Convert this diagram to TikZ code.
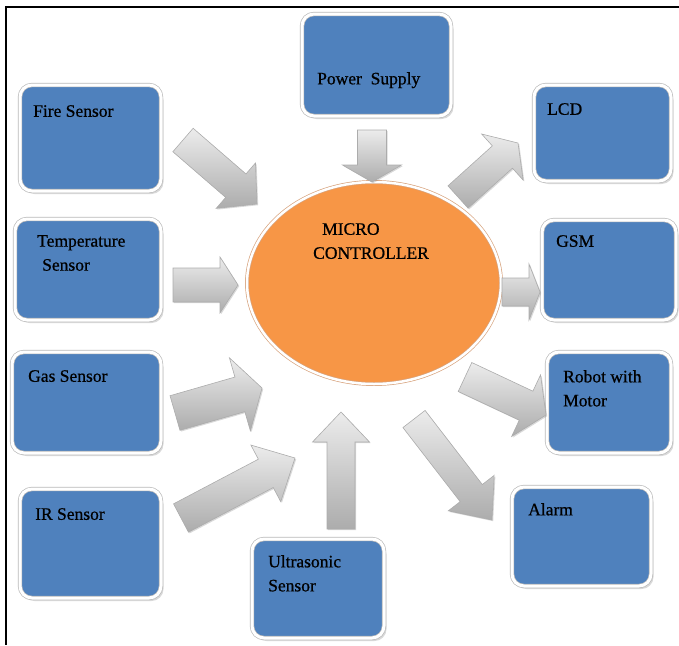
\documentclass[tikz,border=0pt]{standalone}
\usepackage{fontspec}
\setmainfont{Liberation Serif}
\newfontfamily\lblfont{Liberation Serif}[FakeBold=0.7]
\usetikzlibrary{positioning,calc,shapes.geometric,shadows}

\definecolor{unitblue}{HTML}{4F81BD}
\definecolor{mcorange}{HTML}{F79646}
\definecolor{mcrim}{HTML}{D8A47F}

% block arrow: tail, tip, half shaft, half head, head length
\newcommand{\fatarrow}[5]{%
  \coordinate (fa-b) at ($(#2)!#5pt!(#1)$);
  \draw[fat] ($(#1)!#3pt!90:(#2)$) -- ($(fa-b)!#3pt!90:(#2)$) -- ($(fa-b)!#4pt!90:(#2)$)
    -- (#2) -- ($(fa-b)!#4pt!-90:(#2)$) -- ($(fa-b)!#3pt!-90:(#2)$) -- ($(#1)!#3pt!-90:(#2)$) -- cycle;
}

\begin{document}
\begin{tikzpicture}[
        x=1pt, y=-1pt,
        unit/.style={draw=gray!55, double=white, double distance=3pt, line width=0.7pt, fill=unitblue, rounded corners=12pt, outer sep=0pt,
            drop shadow={shadow xshift=2.5pt, shadow yshift=-3pt, opacity=0.3}},
        mcu/.style={ellipse, draw=mcrim, double=white, double distance=2.5pt, line width=0.7pt, fill=mcorange, minimum width=254pt, minimum height=202pt},
        lbl/.style={font=\lblfont\fontsize{17.5}{24}\selectfont, inner sep=0pt, align=left},
        fat/.style={top color=gray!15, bottom color=gray!65, draw=gray!65, line width=0.6pt,
            drop shadow={shadow xshift=1.2pt, shadow yshift=-1.2pt, opacity=0.3}}
    ]
    \useasboundingbox (0,0) rectangle (679,645);
    \draw[line width=1.5pt] (679,7) -- (6,7) -- (6,645);

    % sensors
    \node[unit, minimum width=141pt, minimum height=106pt] (fire) at (90.5,138) {};
    \node[unit, minimum width=146pt, minimum height=101pt] (temp) at (88,269.5) {};
    \node[unit, minimum width=149pt, minimum height=101pt] (gas) at (86.5,402.5) {};
    \node[unit, minimum width=141pt, minimum height=109pt] (ir) at (90.5,543.5) {};
    \node[unit, minimum width=132pt, minimum height=99pt] (ultra) at (318,588.5) {};
    \node[unit, minimum width=149pt, minimum height=102pt] (power) at (376.5,65) {};
    % outputs
    \node[unit, minimum width=137pt, minimum height=96pt] (lcd) at (602.5,133) {};
    \node[unit, minimum width=134pt, minimum height=100pt] (gsm) at (609,270) {};
    \node[unit, minimum width=124pt, minimum height=101pt] (robot) at (609,402.5) {};
    \node[unit, minimum width=139pt, minimum height=99pt] (alarm) at (581.5,536.5) {};

    \node[lbl, below right=20pt and 13pt of fire.north west] (fire-t) {Fire Sensor};
    \node[lbl, below right=16pt and 22pt of temp.north west] (temp-t) {Temperature\\\hspace*{5pt}Sensor};
    \node[lbl, below right=18pt and 16pt of gas.north west] (gas-t) {Gas Sensor};
    \node[lbl, below right=19pt and 15pt of ir.north west] (ir-t) {IR Sensor};
    \node[lbl, below right=16pt and 16pt of ultra.north west] (ultra-t) {Ultrasonic\\Sensor};
    \node[lbl, below right=58pt and 15pt of power.north west] (power-t) {Power\ \ Supply};
    \node[lbl, below right=18pt and 13pt of lcd.north west] (lcd-t) {LCD};
    \node[lbl, below right=15pt and 14pt of gsm.north west] (gsm-t) {GSM};
    \node[lbl, below right=18pt and 16pt of robot.north west] (robot-t) {Robot with\\Motor};
    \node[lbl, below right=16pt and 16pt of alarm.north west] (alarm-t) {Alarm};

    % controller
    \node[mcu] (mc) at (374,283) {};
    \node[lbl, anchor=north west] (mc-t) at ($(mc.center)+(-61,-60)$) {\hspace*{9pt}MICRO\\CONTROLLER};

    % block arrows
    \coordinate (fire-o) at (183,140);  \coordinate (fire-i) at (257,204);
    \coordinate (temp-o) at (173,285);  \coordinate (temp-i) at (238,285);
    \coordinate (gas-o) at (175,413);   \coordinate (gas-i) at (262,388);
    \coordinate (ir-o) at (181,518);    \coordinate (ir-i) at (295,458);
    \coordinate (ultra-o) at (341,529); \coordinate (ultra-i) at (341,412);
    \coordinate (power-o) at (372,130); \coordinate (power-i) at (372,182);
    \coordinate (lcd-o) at (458,197);   \coordinate (lcd-i) at (518,143);
    \coordinate (gsm-o) at (502,292);   \coordinate (gsm-i) at (540,292);
    \coordinate (robot-o) at (465,377); \coordinate (robot-i) at (546,415);
    \coordinate (alarm-o) at (414,419); \coordinate (alarm-i) at (492,520);

    \fatarrow{fire-o}{fire-i}{15.5}{30}{28}
    \fatarrow{temp-o}{temp-i}{17}{28}{18}
    \fatarrow{gas-o}{gas-i}{18}{38}{23}
    \fatarrow{ir-o}{ir-i}{16}{32}{33}
    \fatarrow{ultra-o}{ultra-i}{14}{28.5}{30}
    \fatarrow{power-o}{power-i}{14.5}{29.5}{17}
    \fatarrow{lcd-o}{lcd-i}{15}{31}{21}
    \fatarrow{gsm-o}{gsm-i}{14}{28}{11}
    \fatarrow{robot-o}{robot-i}{16}{34}{22}
    \fatarrow{alarm-o}{alarm-i}{14}{29}{34}
\end{tikzpicture}
\end{document}
